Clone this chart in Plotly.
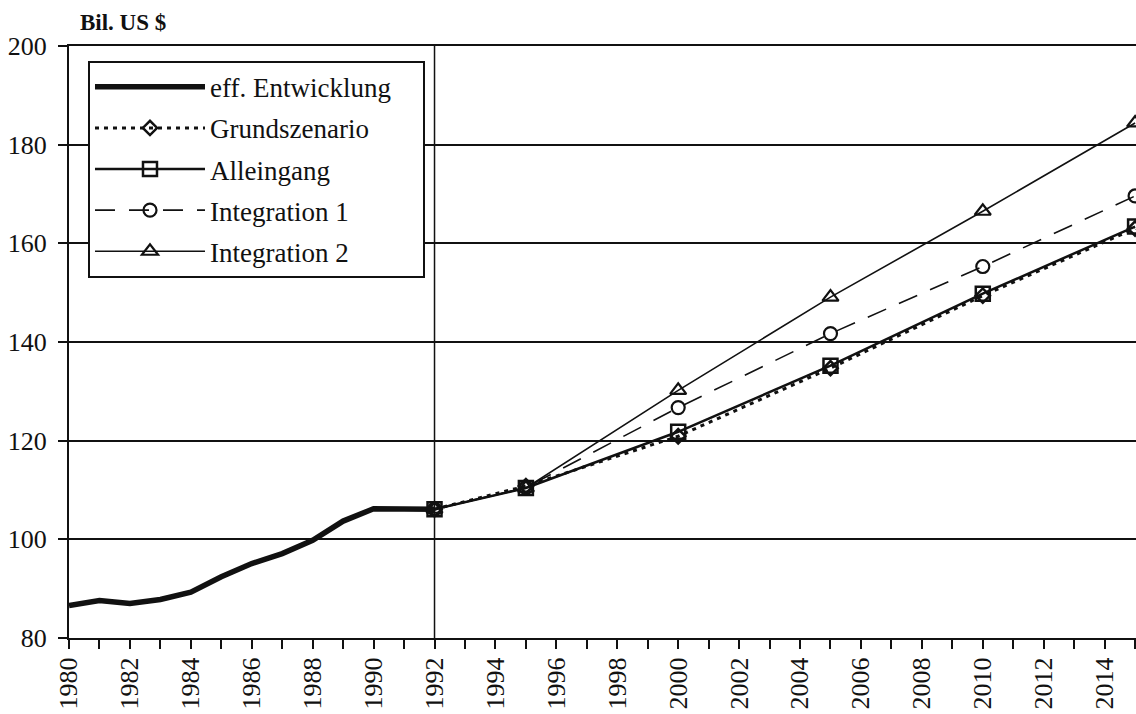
import plotly.graph_objects as go

# Data
hist_years = [1980, 1981, 1982, 1983, 1984, 1985, 1986, 1987, 1988, 1989, 1990, 1991, 1992]
hist_values = [86.6, 87.6, 87.0, 87.8, 89.3, 92.4, 95.1, 97.1, 99.8, 103.7, 106.2, 106.2, 106.1]

scen_years = [1992, 1995, 2000, 2005, 2010, 2015]
grundszenario = [106.1, 110.8, 120.9, 134.7, 149.4, 163.0]
alleingang = [106.1, 110.4, 121.8, 135.2, 149.8, 163.4]
integration1 = [106.1, 110.5, 126.7, 141.7, 155.3, 169.6]
integration2 = [106.1, 110.4, 130.2, 149.1, 166.5, 184.4]

x_ticks = list(range(1980, 2015, 2))
y_ticks = [80, 100, 120, 140, 160, 180, 200]

FONT = "Liberation Serif"
BLACK = "#111111"
PAD = "\u00a0\u00a0\u00a0\u00a0"

fig = go.Figure()

fig.add_trace(go.Scatter(
    x=hist_years, y=hist_values, mode="lines", name="eff. Entwicklung" + PAD,
    line=dict(color=BLACK, width=5.5), legendgroup="a"))

fig.add_trace(go.Scatter(
    x=scen_years, y=grundszenario, mode="lines+markers", name="Grundszenario",
    line=dict(color=BLACK, width=3, dash="4px,5px"),
    marker=dict(symbol="diamond-open", size=11, color=BLACK, line=dict(width=2.5)),
    cliponaxis=False, legendgroup="b"))

fig.add_trace(go.Scatter(
    x=scen_years, y=alleingang, mode="lines+markers", name="Alleingang",
    line=dict(color=BLACK, width=2.5),
    marker=dict(symbol="square-open", size=14, color=BLACK, line=dict(width=2.5)),
    cliponaxis=False, legendgroup="c"))

fig.add_trace(go.Scatter(
    x=scen_years, y=integration1, mode="lines+markers", name="Integration 1",
    line=dict(color=BLACK, width=1.6, dash="20px,14px"),
    marker=dict(symbol="circle-open", size=13, color=BLACK, line=dict(width=2.2)),
    cliponaxis=False, legendgroup="d"))

fig.add_trace(go.Scatter(
    x=scen_years, y=integration2, mode="lines+markers", name="Integration 2",
    line=dict(color=BLACK, width=1.6),
    marker=dict(symbol="triangle-up-open", size=14, color=BLACK, line=dict(width=2.2)),
    cliponaxis=False, legendgroup="e"))

fig.add_shape(type="line", xref="x", yref="paper", x0=1992, x1=1992, y0=0, y1=1,
              line=dict(color=BLACK, width=1.5), layer="below")

fig.add_annotation(text="<b>Bil. US $</b>", xref="paper", yref="paper", x=0.008, y=1.0,
                   xanchor="left", yanchor="bottom", yshift=9, showarrow=False,
                   font=dict(family=FONT, size=23, color=BLACK))

fig.update_layout(
    width=1136, height=714,
    margin=dict(l=69, r=0, t=46, b=76),
    paper_bgcolor="white", plot_bgcolor="white",
    font=dict(family=FONT, size=26, color=BLACK),
    showlegend=True,
    legend=dict(
        x=0.0178, y=0.975, xanchor="left", yanchor="top",
        bgcolor="white", bordercolor=BLACK, borderwidth=2,
        font=dict(family=FONT, size=27, color=BLACK),
        itemwidth=110, tracegroupgap=3, traceorder="grouped",
    ),
    xaxis=dict(
        range=[1980, 2015.03], tickmode="array", tickvals=x_ticks,
        ticktext=[str(v) for v in x_ticks], tickangle=-90,
        ticks="outside", ticklen=9, tickwidth=1.5, tickcolor=BLACK,
        ticklabelstandoff=-2,
        minor=dict(dtick=1, tick0=1980, ticks="outside", ticklen=9, tickwidth=1.5,
                   tickcolor=BLACK, showgrid=False),
        showgrid=False, zeroline=False,
        showline=True, linecolor=BLACK, linewidth=2, mirror=True,
        tickfont=dict(family=FONT, size=26, color=BLACK),
        automargin=False,
    ),
    yaxis=dict(
        range=[80, 200], tickmode="array", tickvals=y_ticks,
        ticks="outside", ticklen=9, tickwidth=1.5, tickcolor=BLACK,
        ticklabelstandoff=6,
        showgrid=True, gridcolor=BLACK, gridwidth=1.5, zeroline=False,
        showline=True, linecolor=BLACK, linewidth=2,
        tickfont=dict(family=FONT, size=26, color=BLACK),
        automargin=False,
    ),
)

fig.write_html("out.html",
               config={"displayModeBar": False},
               post_script="document.body.style.margin='0';document.body.style.overflow='hidden';")
